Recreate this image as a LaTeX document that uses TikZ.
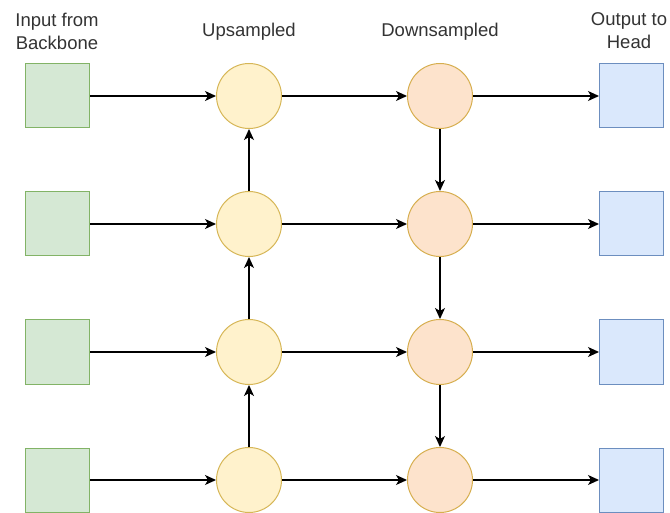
\documentclass[tikz,border=0pt]{standalone}
\usepackage{fontspec}
\setmainfont{Liberation Sans}
\usetikzlibrary{arrows.meta}
\definecolor{inFill}{HTML}{D5E8D4}
\definecolor{inLine}{HTML}{82B366}
\definecolor{upFill}{HTML}{FFF2CC}
\definecolor{upLine}{HTML}{D6B656}
\definecolor{dnFill}{HTML}{FDE3CC}
\definecolor{dnLine}{HTML}{D6AE4E}
\definecolor{outFill}{HTML}{DAE8FC}
\definecolor{outLine}{HTML}{6C8EBF}
\definecolor{txt}{HTML}{333333}
\begin{document}
\begin{tikzpicture}[x=1pt,y=-1pt,
  inbox/.style={draw=inLine,fill=inFill,line width=1pt,minimum size=64pt,inner sep=0pt},
  outbox/.style={draw=outLine,fill=outFill,line width=1pt,minimum size=64pt,inner sep=0pt},
  upnode/.style={circle,draw=upLine,fill=upFill,line width=1pt,minimum size=65pt,inner sep=0pt},
  dnnode/.style={circle,draw=dnLine,fill=dnFill,line width=1pt,minimum size=65pt,inner sep=0pt},
  conn/.style={draw=black,line width=1.4pt,-{Stealth[length=11pt,width=10pt,inset=3pt]}},
  lbl/.style={text=txt,font=\fontsize{18.5}{23}\selectfont,align=center,inner sep=0pt}]
\useasboundingbox (0,0) rectangle (670,513);
% column headings
\node[lbl] (hIn) at (57,31) {Input from\\Backbone};
\node[lbl] (hUp) at (249,32) {Upsampled};
\node[lbl] (hDn) at (440,32) {Downsampled};
\node[lbl] (hOut) at (629,31) {Output to\\Head};
% four pyramid levels
\foreach \i/\y in {1/96,2/224,3/352,4/480}{
  \node[inbox] (in\i) at (57.5,\y) {};
  \node[upnode] (up\i) at (249,\y) {};
  \node[dnnode] (dn\i) at (440,\y) {};
  \node[outbox] (out\i) at (631.5,\y) {};
  \draw[conn] (in\i) -- (up\i);
  \draw[conn] (up\i) -- (dn\i);
  \draw[conn] (dn\i) -- (out\i);
}
% top-down path through the upsampled column
\draw[conn] (up4) -- (up3);
\draw[conn] (up3) -- (up2);
\draw[conn] (up2) -- (up1);
% bottom-up path through the downsampled column
\draw[conn] (dn1) -- (dn2);
\draw[conn] (dn2) -- (dn3);
\draw[conn] (dn3) -- (dn4);
\end{tikzpicture}
\end{document}
